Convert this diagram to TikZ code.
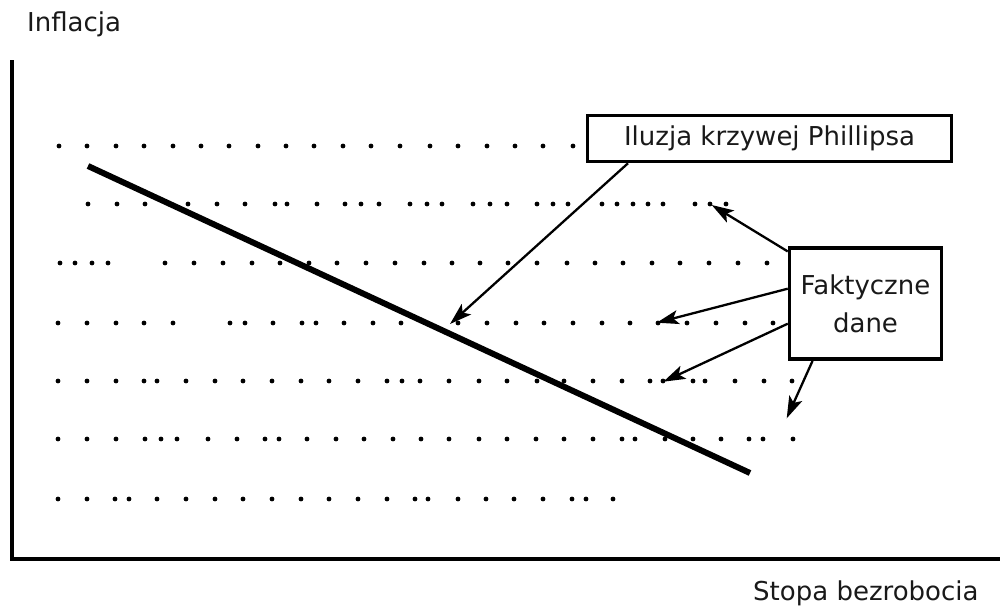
\documentclass[tikz,border=0pt]{standalone}
\usepackage{fontspec}
\setmainfont{DejaVu Sans}
\usetikzlibrary{arrows.meta}
\begin{document}
\begin{tikzpicture}[x=1pt,y=-1pt,
  lbl/.style={font=\fontsize{26}{37.6}\selectfont, text=black!90, inner sep=0pt},
  box/.style={lbl, draw=black, line width=3.5pt, align=center},
  arr/.style={line width=2.3pt, -{Stealth[length=22pt,width=14pt,inset=5pt]}},
  pt/.style={fill=black}]
\useasboundingbox (0,0) rectangle (1000,606);
% axes
\coordinate (ytop) at (12,60);
\coordinate (o) at (12,559);
\coordinate (xend) at (1000,559);
\draw[line width=3.8pt] (ytop) -- (o) -- (xend);
\node[lbl, anchor=base west] (yl) at (27,31.5) {Inflacja};
\node[lbl, anchor=base west] (xl) at (753,600) {Stopa bezrobocia};
% data dots
\foreach \x in {59,87,116,144,173,201,229,258,286,314,343,371,400,430,458,487,515,543,573}
  \fill[pt] (\x,146) circle[radius=2.4pt];
\foreach \x in {88,117,145,188,217,245,275,287,317,345,361,379,410,427,442,473,490,507,537,553,568,602,617,633,648,663,695,710,726}
  \fill[pt] (\x,204) circle[radius=2.4pt];
\foreach \x in {60,75,92,108,165,194,223,252,280,309,337,366,395,424,452,480,508,537,567,595,623,652,680,709,738,767}
  \fill[pt] (\x,263) circle[radius=2.4pt];
\foreach \x in {58,87,116,144,173,230,245,273,302,316,344,373,401,458,487,516,544,573,602,630,658,687,716,745,773}
  \fill[pt] (\x,323) circle[radius=2.4pt];
\foreach \x in {58,87,116,144,157,186,215,243,272,301,329,358,387,402,420,449,479,507,537,564,593,622,650,663,693,705,735,764,792}
  \fill[pt] (\x,381) circle[radius=2.4pt];
\foreach \x in {58,87,116,145,161,177,208,237,265,279,307,336,364,393,421,449,479,507,536,564,593,622,635,665,693,721,749,763,793}
  \fill[pt] (\x,439) circle[radius=2.4pt];
\foreach \x in {58,87,115,129,157,186,215,243,272,301,329,358,387,415,428,458,486,514,543,572,586,613}
  \fill[pt] (\x,499) circle[radius=2.4pt];
% illusion line
\coordinate (ls) at (88,166);
\coordinate (le) at (750,473);
\draw[line width=6pt] (ls) -- (le);
% boxes
\node[box, minimum width=364pt, minimum height=46pt] (ilu) at (769.5,138.5) {Iluzja krzywej Phillipsa};
\node[box, minimum width=152pt, minimum height=111pt] (fak) at (865.5,303.7) {Faktyczne\\dane};
% arrow targets
\coordinate (t0) at (450,324);
\coordinate (t1) at (711.7,205);
\coordinate (t2) at (656.7,322.7);
\coordinate (t3) at (663.3,381.7);
\coordinate (t4) at (786.7,418.3);
\draw[arr] ([xshift=-141.5pt]ilu.south) -- (t0);
\draw[arr] ([yshift=-5pt]fak.north west) -- (t1);
\draw[arr] ([yshift=15pt]fak.west) -- (t2);
\draw[arr] ([yshift=-20pt]fak.west) -- (t3);
\draw[arr] ([xshift=-53pt]fak.south) -- (t4);
\end{tikzpicture}
\end{document}
